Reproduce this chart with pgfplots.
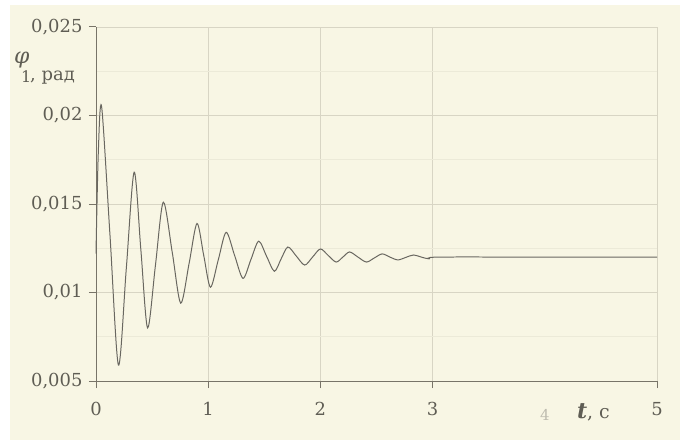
\documentclass[border=0pt]{standalone}
\usepackage{pgfplots}
\pgfplotsset{compat=1.18}
\usepackage{fontspec}
\setmainfont{DejaVu Serif}
\definecolor{bgc}{RGB}{248,246,228}
\definecolor{gridc}{RGB}{216,213,196}
\definecolor{mgridc}{RGB}{236,234,216}
\definecolor{axc}{RGB}{120,116,104}
\definecolor{txtc}{RGB}{95,93,84}
\definecolor{curvec}{RGB}{105,103,96}
\definecolor{fadec}{RGB}{190,188,175}
\begin{document}
\begin{tikzpicture}
\fill[white] (-96bp,-59bp) rectangle (584bp,381bp);
\fill[bgc] (-86bp,-59bp) rectangle (584bp,376bp);
\begin{axis}[
  at={(0,0)}, anchor=south west,
  scale only axis, width=561bp, height=354bp,
  xmin=0, xmax=5, ymin=0.005, ymax=0.025,
  axis lines*=left, axis line style={axc, line width=1pt, -},
  xtick={0,1,2,3,5}, ytick={0.005,0.01,0.015,0.02,0.025},
  extra x ticks={4}, extra x tick style={grid=none, major tick length=0pt, xticklabel style={text=fadec, font=\fontsize{15}{16}\selectfont, yshift=-14bp}},
  minor x tick num=1, minor y tick num=1,
  grid=both,
  major grid style={gridc, line width=0.8pt},
  minor grid style={mgridc, line width=0.6pt},
  minor tick length=0pt,
  tick align=outside, major tick length=7bp,
  tick style={axc, line width=1pt},
  /pgf/number format/assume math mode=true,
  yticklabel style={font=\fontsize{18}{19}\selectfont, text=txtc, xshift=-3bp,
    /pgf/number format/use comma, /pgf/number format/fixed, /pgf/number format/precision=3},
  xticklabel style={font=\fontsize{18}{19}\selectfont, text=txtc, yshift=-11bp},
  scaled y ticks=false,
  clip=false,
]
\addplot[curvec, line width=1pt, smooth, tension=0.5] coordinates {
(0,0.0122) (0.02,0.0178) (0.05,0.0205) (0.125,0.0132) (0.20,0.0059)
(0.27,0.01135) (0.34,0.0168) (0.40,0.0124) (0.46,0.0080)
(0.53,0.01155) (0.60,0.0151) (0.68,0.01225) (0.755,0.0094)
(0.83,0.01165) (0.90,0.0139) (0.96,0.0121) (1.02,0.0103)
(1.09,0.01185) (1.16,0.0134) (1.235,0.0121) (1.31,0.0108)
(1.38,0.01185) (1.45,0.0129) (1.52,0.01205) (1.59,0.0112)
(1.65,0.0119) (1.71,0.01257) (1.785,0.01206) (1.86,0.01155)
(1.93,0.0120) (2.00,0.01246) (2.07,0.01209) (2.14,0.01172)
(2.20,0.0120) (2.26,0.01229) (2.335,0.0120) (2.41,0.01172)
(2.48,0.01195) (2.55,0.01218) (2.62,0.0120) (2.69,0.01184)
(2.76,0.01198) (2.83,0.01212) (2.90,0.0120) (2.97,0.0119)
(3.05,0.0120) (4.0,0.0120) (5.0,0.0120)
};
\end{axis}
\node[text=txtc, anchor=base west, inner sep=0pt] at (-82bp,317bp)
  {\fontsize{22}{24}\selectfont\itshape φ};
\node[text=txtc, anchor=base west, inner sep=0pt] at (-75bp,298bp)
  {\fontsize{16}{18}\selectfont 1};
\node[text=txtc, anchor=base west, inner sep=0pt] at (-66bp,300bp)
  {\fontsize{18}{20}\selectfont, рад};
\node[text=txtc, anchor=base west, inner sep=0pt] at (481bp,-37bp)
  {\fontsize{22}{24}\selectfont\itshape\bfseries t};
\node[text=txtc, anchor=base west, inner sep=0pt] at (491bp,-37bp)
  {\fontsize{19}{21}\selectfont, с};
\end{tikzpicture}
\end{document}
